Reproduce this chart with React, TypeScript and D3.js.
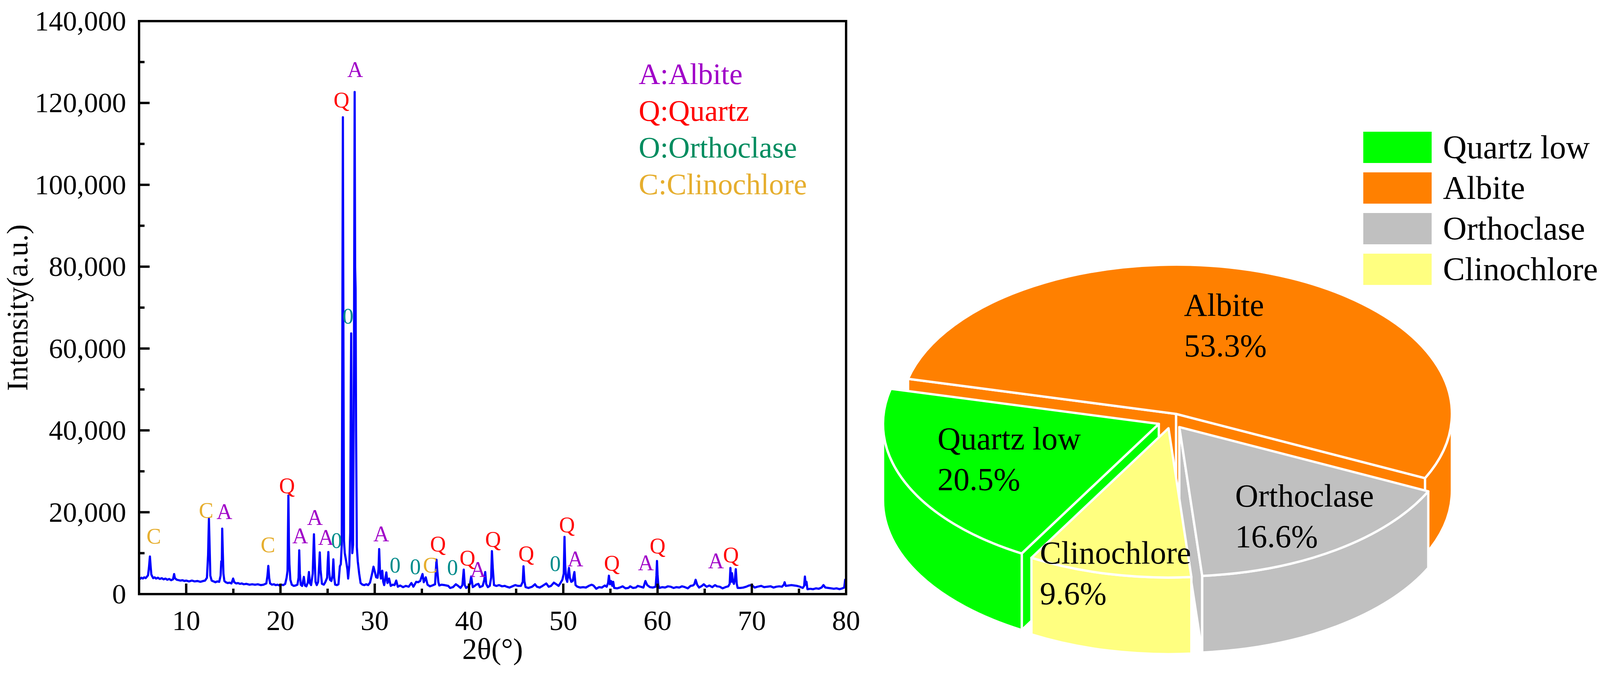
import React from 'react';
import * as d3 from 'd3';

// ---------------- XRD data (2θ in degrees, intensity in counts) ----------------
const xrdPoints: [number, number][] = [
  [5.0, 3900], [5.1, 3700], [5.25, 4000], [5.4, 3800], [5.55, 4100], [5.7, 3900], [5.85, 4300], [5.95, 4600],
  [6.05, 6500], [6.15, 9200], [6.22, 7000], [6.3, 4800], [6.4, 4300], [6.5, 3900], [6.65, 4100], [6.8, 3800],
  [7.0, 4000], [7.2, 3700], [7.4, 3900], [7.6, 3600], [7.8, 3800], [8.0, 3500], [8.2, 3700], [8.4, 3400],
  [8.6, 3600], [8.72, 4900], [8.8, 3900], [9.0, 3500], [9.2, 3400], [9.4, 3300], [9.6, 3400], [9.8, 3200],
  [10.0, 3300], [10.3, 3100], [10.6, 3300], [10.9, 3100], [11.2, 3200], [11.5, 3000], [11.8, 3200], [12.0, 3300],
  [12.2, 4000], [12.32, 9500], [12.41, 18400], [12.48, 12000], [12.56, 4500], [12.7, 3300], [12.9, 3100], [13.1, 2900],
  [13.3, 3100], [13.5, 3000], [13.65, 4500], [13.72, 8000], [13.78, 7500], [13.82, 16000], [13.88, 10500], [13.95, 5000],
  [14.05, 3200], [14.2, 2900], [14.4, 2700], [14.6, 2800], [14.8, 2600], [14.98, 3800], [15.1, 2900], [15.3, 2600],
  [15.5, 2700], [15.7, 2500], [15.9, 2600], [16.1, 2400], [16.4, 2500], [16.7, 2300], [17.0, 2400], [17.3, 2300],
  [17.6, 2400], [17.9, 2200], [18.2, 2300], [18.5, 2600], [18.62, 4500], [18.71, 6900], [18.8, 4000], [18.9, 2600],
  [19.1, 2300], [19.3, 2400], [19.5, 2200], [19.7, 2300], [19.9, 2100], [20.1, 2300], [20.3, 2200], [20.5, 2500],
  [20.65, 4000], [20.75, 5700], [20.84, 24100], [20.9, 12000], [20.95, 7300], [21.05, 3500], [21.2, 2300], [21.4, 2000],
  [21.6, 2100], [21.8, 2300], [21.92, 4000], [21.99, 10700], [22.06, 5000], [22.15, 2300], [22.3, 2000], [22.48, 4200],
  [22.6, 2100], [22.75, 1900], [22.9, 2800], [23.02, 5400], [23.12, 2700], [23.25, 2200], [23.42, 5000], [23.55, 14600],
  [23.62, 9200], [23.72, 3000], [23.85, 2200], [24.0, 3000], [24.1, 7000], [24.17, 10200], [24.25, 6000], [24.4, 2500],
  [24.6, 2300], [24.75, 2900], [24.95, 4000], [25.02, 8000], [25.08, 10300], [25.15, 6000], [25.25, 3500], [25.4, 3200],
  [25.52, 4500], [25.61, 8500], [25.7, 4000], [25.8, 2300], [26.0, 2200], [26.15, 2400], [26.3, 6800], [26.4, 7300],
  [26.5, 12000], [26.56, 60000], [26.62, 116500], [26.68, 60000], [26.74, 13000], [26.82, 10000], [26.95, 8300], [27.1, 6000],
  [27.18, 3800], [27.3, 7000], [27.4, 15000], [27.46, 50000], [27.5, 63700], [27.55, 30000], [27.62, 10000], [27.7, 12000],
  [27.8, 60000], [27.87, 122700], [27.92, 80000], [27.97, 74500], [28.02, 40000], [28.1, 11500], [28.2, 8000], [28.35, 5000],
  [28.5, 2700], [28.7, 2300], [28.9, 2200], [29.1, 2400], [29.3, 2200], [29.5, 2800], [29.7, 4800], [29.87, 6700],
  [30.0, 5500], [30.15, 4100], [30.3, 4000], [30.4, 6000], [30.47, 11000], [30.55, 6000], [30.65, 3800], [30.8, 5700],
  [30.9, 3000], [31.0, 2200], [31.1, 3500], [31.23, 5300], [31.35, 2700], [31.52, 3800], [31.7, 2000], [31.9, 2300],
  [32.1, 2200], [32.28, 3300], [32.45, 1800], [32.7, 2100], [33.0, 1700], [33.3, 2000], [33.6, 1800], [33.89, 2700],
  [34.1, 1800], [34.4, 3000], [34.6, 2900], [34.82, 3200], [35.07, 4900], [35.2, 2900], [35.41, 4100], [35.6, 2300],
  [35.85, 1900], [36.1, 2100], [36.4, 2400], [36.55, 8400], [36.62, 6100], [36.75, 2900], [36.85, 2100], [37.1, 2300],
  [37.4, 2200], [37.8, 2000], [38.0, 1500], [38.3, 1700], [38.6, 2400], [38.85, 2000], [39.1, 1500], [39.3, 2200],
  [39.44, 6000], [39.55, 2200], [39.7, 1500], [39.95, 1900], [40.1, 2500], [40.23, 4300], [40.4, 1700], [40.6, 2000],
  [40.75, 2300], [41.0, 2500], [41.15, 1700], [41.45, 2000], [41.62, 3500], [41.72, 5400], [41.82, 2500], [42.0, 1700],
  [42.2, 2000], [42.35, 4000], [42.43, 10500], [42.52, 6400], [42.65, 2200], [42.9, 2000], [43.2, 2200], [43.5, 1900],
  [43.8, 2000], [44.0, 1800], [44.3, 1600], [44.6, 1900], [44.9, 2200], [45.2, 2000], [45.5, 2000], [45.7, 3000],
  [45.78, 6800], [45.88, 3100], [46.0, 1700], [46.3, 1500], [46.7, 1800], [47.0, 2400], [47.2, 1800], [47.5, 1600],
  [47.8, 2000], [48.2, 2600], [48.45, 1800], [48.7, 2000], [49.0, 2800], [49.2, 2500], [49.5, 2000], [49.7, 2700],
  [49.9, 3500], [50.05, 5000], [50.13, 14000], [50.2, 7300], [50.3, 3800], [50.42, 3000], [50.52, 5000], [50.6, 6400],
  [50.7, 4000], [50.85, 3000], [51.0, 3200], [51.1, 4500], [51.18, 5400], [51.3, 2200], [51.5, 1800], [51.8, 1600],
  [52.1, 1700], [52.4, 1600], [52.7, 2000], [53.0, 2300], [53.2, 2100], [53.5, 1300], [53.8, 1700], [54.1, 1600],
  [54.4, 2100], [54.6, 1800], [54.75, 2700], [54.84, 4500], [54.95, 2400], [55.07, 3200], [55.2, 2000], [55.3, 3000],
  [55.4, 1500], [55.7, 1400], [56.0, 1600], [56.3, 1900], [56.6, 1400], [56.9, 1500], [57.1, 1900], [57.4, 1500],
  [57.7, 1600], [57.9, 2000], [58.2, 1800], [58.5, 1600], [58.71, 3200], [58.9, 2200], [59.2, 1700], [59.5, 1600],
  [59.8, 1800], [59.88, 4500], [59.94, 8100], [60.0, 4800], [60.08, 2200], [60.2, 1500], [60.5, 1700], [60.8, 1600],
  [61.1, 1900], [61.4, 1800], [61.7, 1500], [62.0, 1700], [62.3, 1600], [62.6, 1900], [62.9, 1700], [63.2, 1400],
  [63.5, 2000], [63.75, 2100], [63.9, 2400], [64.04, 3500], [64.2, 2300], [64.4, 1600], [64.7, 2000], [64.9, 2400],
  [65.2, 1800], [65.5, 2100], [65.8, 1700], [66.1, 2200], [66.3, 1900], [66.6, 1800], [66.9, 1400], [67.2, 1700],
  [67.5, 1900], [67.65, 2500], [67.73, 6400], [67.8, 3000], [67.9, 5100], [68.0, 3000], [68.1, 2500], [68.2, 3500],
  [68.3, 6100], [68.4, 2500], [68.5, 1500], [68.8, 1500], [69.1, 1600], [69.4, 1800], [69.7, 2100], [70.0, 2200],
  [70.3, 1600], [70.6, 1800], [71.0, 2000], [71.3, 1700], [71.6, 1800], [72.0, 1900], [72.3, 1600], [72.6, 1800],
  [72.9, 1900], [73.2, 1800], [73.4, 2300], [73.48, 2900], [73.6, 2000], [73.9, 2100], [74.2, 2200], [74.5, 2100],
  [74.8, 2000], [75.1, 1800], [75.4, 1500], [75.55, 2000], [75.63, 4300], [75.72, 2300], [75.8, 3000], [75.9, 1200],
  [76.2, 1300], [76.5, 1200], [76.8, 1400], [77.1, 1300], [77.4, 1600], [77.6, 2200], [77.8, 1600], [78.1, 1500],
  [78.4, 1400], [78.7, 1300], [79.0, 1400], [79.3, 1200], [79.6, 1400], [79.8, 1600], [79.9, 3500], [80.0, 3500],
];

const xTicks = [10, 20, 30, 40, 50, 60, 70, 80];
const xMinorTicks = [15, 25, 35, 45, 55, 65, 75];
const yTicks = [0, 20000, 40000, 60000, 80000, 100000, 120000, 140000];
const yMinorTicks = [10000, 30000, 50000, 70000, 90000, 110000, 130000];

const phaseLegend = ['A:Albite', 'Q:Quartz', 'O:Orthoclase', 'C:Clinochlore'];
const phaseLegendColors = ['#A000C8', '#FF0000', '#008C5F', '#E6AE2E'];

// peak markers: letter, 2θ of the letter centre, intensity at the letter baseline
const peakLetters = ['C', 'C', 'A', 'C', 'Q', 'A', 'A', 'A', '0', 'Q', '0', 'A', 'A',
  '0', '0', 'C', 'Q', '0', 'Q', 'A', 'Q', 'Q', '0', 'Q', 'A', 'Q', 'A', 'Q', 'A', 'Q'];
const peakTheta = [6.56, 12.11, 14.05, 18.67, 20.69, 22.09, 23.66, 24.83, 25.95, 26.47, 27.17, 27.92, 30.69,
  32.16, 34.31, 35.89, 36.71, 38.25, 39.84, 40.96, 42.55, 46.07, 49.15, 50.39, 51.28, 55.16, 58.76, 60.01, 66.2, 67.79];
const peakLabelIntensity = [12300, 18600, 18300, 10200, 24600, 12400, 16900, 12000, 11300, 118900, 66100, 126300, 12900,
  5300, 4900, 5300, 10400, 4700, 7000, 4200, 11600, 8000, 5600, 15100, 6800, 5700, 5800, 9900, 6300, 7700];
const letterColor: Record<string, string> = { A: '#A000C8', Q: '#FF0000', '0': '#008C8C', C: '#E6AE2E' };

// ---------------- Pie data ----------------
const pieNames = ['Albite', 'Orthoclase', 'Clinochlore', 'Quartz low'];
const pieValues = [53.3, 16.6, 9.6, 20.5];
const pieColors = ['#FF8000', '#C0C0C0', '#FFFF80', '#00FF00'];
const pieLegendOrder = ['Quartz low', 'Albite', 'Orthoclase', 'Clinochlore'];

const fs = { fontFamily: '"Liberation Serif"' };

function T(props: any) {
  const { children, ...rest } = props;
  return <text {...rest} fontFamily="Liberation Serif" style={fs}>{children}</text>;
}

function XrdPanel() {
  const L = 356, R = 2166, Tp = 54, B = 1520;
  const x = d3.scaleLinear().domain([5, 80]).range([L, R]);
  const y = d3.scaleLinear().domain([0, 140000]).range([B, Tp]);
  const line = d3.line<[number, number]>().x(d => x(d[0])).y(d => y(d[1]));
  const fmt = d3.format(',');
  return (
    <g>
      <defs>
        <clipPath id="plotClip"><rect x={L} y={Tp} width={R - L} height={B - Tp} /></clipPath>
      </defs>
      <path d={line(xrdPoints) || ''} fill="none" stroke="#0000FF" strokeWidth={5.5}
        strokeLinejoin="round" clipPath="url(#plotClip)" />
      {yTicks.map(t => <line key={'ym' + t} x1={L} x2={L + 27} y1={y(t)} y2={y(t)} stroke="#000" strokeWidth={6} />)}
      {yMinorTicks.map(t => <line key={'yn' + t} x1={L} x2={L + 14} y1={y(t)} y2={y(t)} stroke="#000" strokeWidth={6} />)}
      {xTicks.map(t => <line key={'xm' + t} x1={x(t)} x2={x(t)} y1={B} y2={B - 27} stroke="#000" strokeWidth={6} />)}
      {xMinorTicks.map(t => <line key={'xn' + t} x1={x(t)} x2={x(t)} y1={B} y2={B - 14} stroke="#000" strokeWidth={6} />)}
      <rect x={L} y={Tp} width={R - L} height={B - Tp} fill="none" stroke="#000" strokeWidth={6} />
      {yTicks.map(t => (
        <T key={'yl' + t} x={L - 33} y={y(t) + 24} textAnchor="end" fontSize={72}>{fmt(t)}</T>
      ))}
      {xTicks.map(t => (
        <T key={'xl' + t} x={x(t)} y={B + 92} textAnchor="middle" fontSize={72}>{String(t)}</T>
      ))}
      <T x={(L + R) / 2} y={1686} textAnchor="middle" fontSize={76}>2θ(°)</T>
      <T transform={`translate(70,${(Tp + B) / 2}) rotate(-90)`} textAnchor="middle" fontSize={76}>Intensity(a.u.)</T>
      {phaseLegend.map((s, i) => (
        <T key={s} x={1635} y={215 + i * 94} fontSize={76} fill={phaseLegendColors[i]}>{s}</T>
      ))}
      {peakLetters.map((s, i) => (
        <T key={'pk' + i} x={x(peakTheta[i])} y={y(peakLabelIntensity[i])} textAnchor="middle"
          fontSize={56} fill={letterColor[s]}>{s}</T>
      ))}
    </g>
  );
}

function PiePanel() {
  const cx = 2999, cy = 1077, rx = 706, ry = 382, depth = 196, explode = 0.05;
  const startDeg = 193.6 + 90; // d3 angles are measured from 12 o'clock
  const arcs = d3.pie<number>().sort(null).value(v => v)
    .startAngle(startDeg * Math.PI / 180).endAngle((startDeg + 360) * Math.PI / 180)(pieValues);

  const slices = arcs.map((a, i) => {
    const s = a.startAngle - Math.PI / 2;
    const e = a.endAngle - Math.PI / 2;
    const m = (s + e) / 2;
    const ox = cx + explode * rx * Math.cos(m);
    const oy = cy + explode * ry * Math.sin(m);
    return { i, s, e, m, ox, oy };
  });

  const pt = (ox: number, oy: number, t: number, dy = 0): [number, number] =>
    [ox + rx * Math.cos(t), oy + ry * Math.sin(t) + dy];

  const topPath = (sl: typeof slices[0]) => {
    const p0 = pt(sl.ox, sl.oy, sl.s);
    const p1 = pt(sl.ox, sl.oy, sl.e);
    const large = sl.e - sl.s > Math.PI ? 1 : 0;
    return `M${sl.ox},${sl.oy}L${p0[0]},${p0[1]}A${rx},${ry} 0 ${large} 1 ${p1[0]},${p1[1]}Z`;
  };

  const wallPaths = (sl: typeof slices[0]) => {
    const out: string[] = [];
    for (let k = -1; k <= 2; k++) {
      const a = Math.max(sl.s, k * 2 * Math.PI);
      const b = Math.min(sl.e, k * 2 * Math.PI + Math.PI);
      if (b > a + 1e-6) {
        const p0 = pt(sl.ox, sl.oy, a), p1 = pt(sl.ox, sl.oy, b);
        const q1 = pt(sl.ox, sl.oy, b, depth), q0 = pt(sl.ox, sl.oy, a, depth);
        out.push(`M${p0[0]},${p0[1]}A${rx},${ry} 0 0 1 ${p1[0]},${p1[1]}L${q1[0]},${q1[1]}A${rx},${ry} 0 0 0 ${q0[0]},${q0[1]}Z`);
      }
    }
    return out;
  };

  const facePath = (sl: typeof slices[0], t: number) => {
    const p = pt(sl.ox, sl.oy, t);
    return `M${sl.ox},${sl.oy}L${p[0]},${p[1]}L${p[0]},${p[1] + depth}L${sl.ox},${sl.oy + depth}Z`;
  };

  const order = [0, 1, 3, 2]; // painter's order: back to front
  const labelLines: [string, string][] = [['Albite', '53.3%'], ['Orthoclase', '16.6%'], ['Clinochlore', '9.6%'], ['Quartz low', '20.5%']];
  const labelPos: [number, number][] = [[3031, 808], [3162, 1296], [2662, 1442], [2400, 1150]];

  return (
    <g>
      {order.map(idx => {
        const sl = slices[idx];
        const col = pieColors[idx];
        const faces: string[] = [];
        if (Math.cos(sl.s) < 0) faces.push(facePath(sl, sl.s));
        if (Math.cos(sl.e) > 0) faces.push(facePath(sl, sl.e));
        return (
          <g key={idx}>
            {faces.map((d, j) => <path key={'f' + j} d={d} fill={col} stroke="#fff" strokeWidth={6} strokeLinejoin="round" />)}
            {wallPaths(sl).map((d, j) => <path key={'w' + j} d={d} fill={col} stroke="#fff" strokeWidth={6} strokeLinejoin="round" />)}
            <path d={topPath(sl)} fill={col} stroke="#fff" strokeWidth={6} strokeLinejoin="round" />
          </g>
        );
      })}
      {labelLines.map((ls, i) => (
        <g key={'lab' + i}>
          <T x={labelPos[i][0]} y={labelPos[i][1]} fontSize={82}>{ls[0]}</T>
          <T x={labelPos[i][0]} y={labelPos[i][1] + 104} fontSize={82}>{ls[1]}</T>
        </g>
      ))}
      {pieLegendOrder.map((name, i) => {
        const idx = pieNames.indexOf(name);
        return (
          <g key={'lg' + name}>
            <rect x={3490} y={337 + i * 104} width={175} height={80} fill={pieColors[idx]} />
            <T x={3694} y={405 + i * 104} fontSize={84}>{name}</T>
          </g>
        );
      })}
    </g>
  );
}

export default function App() {
  return (
    <svg width={4110} height={1727} viewBox="0 0 4110 1727"
      style={{ position: 'absolute', left: 0, top: 0, display: 'block', background: '#fff' }}>
      <rect x={0} y={0} width={4110} height={1727} fill="#fff" />
      <XrdPanel />
      <PiePanel />
    </svg>
  );
}
